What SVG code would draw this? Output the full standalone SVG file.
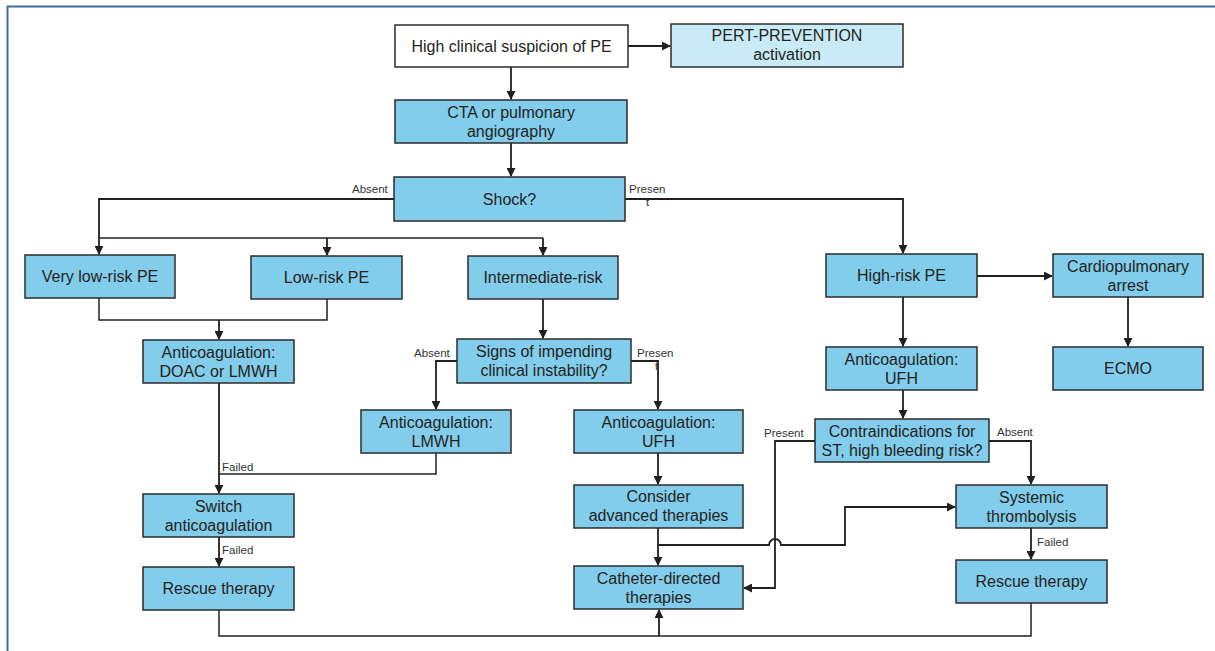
<svg xmlns="http://www.w3.org/2000/svg" width="1215" height="651" viewBox="0 0 1215 651">
<defs>
<style>
.box{fill:#82cdeb;stroke:#2b2b2b;stroke-width:1.5}
.wbox{fill:#ffffff;stroke:#2b2b2b;stroke-width:1.5}
.lbox{fill:#c9ebf7;stroke:#2b2b2b;stroke-width:1.5}
.t{font-family:"Liberation Sans",Arial,sans-serif;font-size:16px;fill:#231f20;text-anchor:middle}
.s{font-family:"Liberation Sans",Arial,sans-serif;font-size:11.5px;fill:#333333}
.c{fill:none;stroke:#231f20;stroke-width:1.5}
.a{fill:none;stroke:#231f20;stroke-width:1.8;marker-end:url(#ah)}
</style>
<marker id="ah" viewBox="0 0 10 10" refX="9" refY="5" markerWidth="9" markerHeight="9" markerUnits="userSpaceOnUse" orient="auto">
<path d="M0,0 L10,5 L0,10 z" fill="#231f20"/>
</marker>
</defs>
<rect width="1215" height="651" fill="#ffffff"/>
<path d="M7.5,651 V6.5 H1215" fill="none" stroke="#3b6ea8" stroke-width="2"/>

<g id="connectors">
<path class="a" d="M628,46 H670"/>
<path class="a" d="M511,67 V99"/>
<path class="a" d="M511,143 V176"/>
<path class="a" d="M394,199 H99 V254"/>
<path class="c" d="M99,238 H543"/>
<path class="a" d="M327,238 V255"/>
<path class="a" d="M543,238 V255"/>
<path class="a" d="M625,199 H903 V253"/>
<path class="a" d="M977,276 H1052"/>
<path class="a" d="M1128,297 V346"/>
<path class="a" d="M903,297 V346"/>
<path class="a" d="M903,390 V418"/>
<path class="c" d="M99,298 V320 H327 V299"/>
<path class="a" d="M219,320 V339"/>
<path class="a" d="M543,299 V338"/>
<path class="a" d="M457,361 H436 V409"/>
<path class="a" d="M631,361 H658 V409"/>
<path class="a" d="M658,453 V484"/>
<path class="a" d="M658,528 V565"/>
<path class="a" d="M219,383 V493"/>
<path class="c" d="M436,453 V474 H219"/>
<path class="a" d="M219,537 V566"/>
<path class="c" d="M219,610 V636 H659"/>
<path class="c" d="M1031,603 V636 H659"/>
<path class="a" d="M659,636 V610"/>
<path class="a" d="M815,441 H775 V588 H744"/>
<path class="a" d="M989,441 H1031 V484"/>
<path class="a" d="M1031,528 V559"/>
<path class="a" d="M658,545 H769 A6,6 0 0 1 781,545 H845 V507 H955"/>
<text class="s" x="352" y="193">Absent</text>
<text class="s" x="629" y="193">Presen</text>
<text class="s" x="646" y="206">t</text>
<text class="s" x="414" y="357">Absent</text>
<text class="s" x="637" y="357">Presen</text>
<text class="s" x="655" y="370">t</text>
<text class="s" x="764" y="437">Present</text>
<text class="s" x="997" y="436">Absent</text>
<text class="s" x="222" y="471">Failed</text>
<text class="s" x="222" y="554">Failed</text>
<text class="s" x="1037" y="546">Failed</text>
</g>

<g id="n-suspicion"><rect class="wbox" x="395" y="25" width="233" height="42"/><text class="t" x="511.5" y="51.5">High clinical suspicion of PE</text></g>
<g id="n-pert"><rect class="lbox" x="671" y="24" width="232" height="43"/><text class="t" x="787" y="41">PERT-PREVENTION</text><text class="t" x="787" y="60">activation</text></g>
<g id="n-cta"><rect class="box" x="395" y="100" width="232" height="43"/><text class="t" x="511" y="118">CTA or pulmonary</text><text class="t" x="511" y="137">angiography</text></g>
<g id="n-shock"><rect class="box" x="394" y="177" width="231" height="44"/><text class="t" x="509.5" y="204.5">Shock?</text></g>
<g id="n-verylow"><rect class="box" x="25" y="255" width="150" height="43"/><text class="t" x="100" y="282">Very low-risk PE</text></g>
<g id="n-low"><rect class="box" x="251" y="256" width="151" height="43"/><text class="t" x="326.5" y="283">Low-risk PE</text></g>
<g id="n-intermediate"><rect class="box" x="468" y="256" width="150" height="43"/><text class="t" x="543" y="283">Intermediate-risk</text></g>
<g id="n-high"><rect class="box" x="826" y="254" width="151" height="43"/><text class="t" x="901.5" y="281">High-risk PE</text></g>
<g id="n-arrest"><rect class="box" x="1053" y="254" width="150" height="43"/><text class="t" x="1128" y="272">Cardiopulmonary</text><text class="t" x="1128" y="291">arrest</text></g>
<g id="n-ecmo"><rect class="box" x="1053" y="347" width="150" height="43"/><text class="t" x="1128" y="374">ECMO</text></g>
<g id="n-ufh-right"><rect class="box" x="826" y="347" width="151" height="43"/><text class="t" x="901.5" y="365">Anticoagulation:</text><text class="t" x="901.5" y="384">UFH</text></g>
<g id="n-contra"><rect class="box" x="815" y="419" width="174" height="43"/><text class="t" x="902" y="437">Contraindications for</text><text class="t" x="902" y="456">ST, high bleeding risk?</text></g>
<g id="n-systemic"><rect class="box" x="956" y="485" width="151" height="43"/><text class="t" x="1031.5" y="503">Systemic</text><text class="t" x="1031.5" y="522">thrombolysis</text></g>
<g id="n-rescue-right"><rect class="box" x="956" y="560" width="151" height="43"/><text class="t" x="1031.5" y="587">Rescue therapy</text></g>
<g id="n-doac"><rect class="box" x="143" y="340" width="151" height="43"/><text class="t" x="218.5" y="358">Anticoagulation:</text><text class="t" x="218.5" y="377">DOAC or LMWH</text></g>
<g id="n-signs"><rect class="box" x="457" y="339" width="174" height="44"/><text class="t" x="544" y="357">Signs of impending</text><text class="t" x="544" y="376">clinical instability?</text></g>
<g id="n-lmwh"><rect class="box" x="361" y="410" width="150" height="43"/><text class="t" x="436" y="428">Anticoagulation:</text><text class="t" x="436" y="447">LMWH</text></g>
<g id="n-ufh-mid"><rect class="box" x="574" y="410" width="169" height="43"/><text class="t" x="658.5" y="428">Anticoagulation:</text><text class="t" x="658.5" y="447">UFH</text></g>
<g id="n-consider"><rect class="box" x="574" y="485" width="169" height="43"/><text class="t" x="658.5" y="502">Consider</text><text class="t" x="658.5" y="521">advanced therapies</text></g>
<g id="n-catheter"><rect class="box" x="574" y="566" width="169" height="43"/><text class="t" x="658.5" y="584">Catheter-directed</text><text class="t" x="658.5" y="603">therapies</text></g>
<g id="n-switch"><rect class="box" x="143" y="494" width="151" height="43"/><text class="t" x="218.5" y="512">Switch</text><text class="t" x="218.5" y="531">anticoagulation</text></g>
<g id="n-rescue-left"><rect class="box" x="143" y="567" width="151" height="43"/><text class="t" x="218.5" y="594">Rescue therapy</text></g>
</svg>
